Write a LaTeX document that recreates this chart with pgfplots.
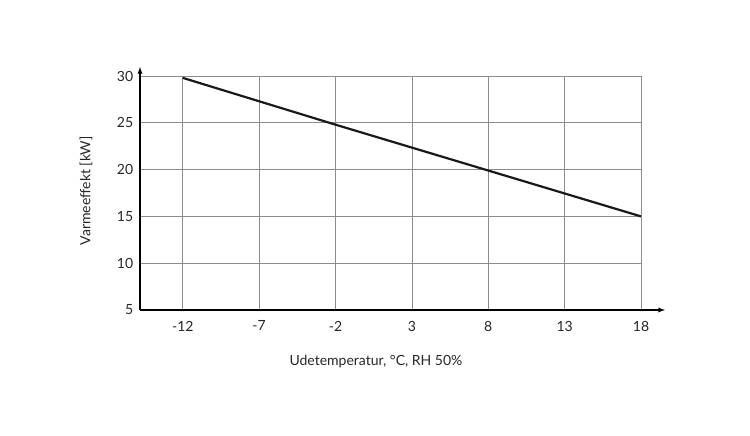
\documentclass[border=0pt]{standalone}
\usepackage{fontspec}
\setmainfont{Lato}
\usepackage{pgfplots}
\pgfplotsset{compat=1.18}
\begin{document}
\fontsize{14bp}{16bp}\selectfont
\begin{tikzpicture}
\useasboundingbox (-140bp,-126bp) rectangle (610bp,310bp);
\begin{axis}[
  at={(0,0)}, anchor=south west,
  scale only axis, width=501bp, height=234bp,
  xmin=-14.8, xmax=18, ymin=5, ymax=30,
  axis lines=left,
  x axis line style={-latex, shorten >=-24bp, line width=1.3pt},
  y axis line style={-latex, shorten >=-9bp, line width=1.3pt},
  xtick={-12,-7,-2,3,8,13,18},
  ytick={5,10,15,20,25,30},
  major tick length=0pt,
  grid=major,
  major grid style={gray!90, line width=0.7pt},
  tick label style={font=\fontsize{14bp}{16bp}\selectfont, text=black!85},
  xticklabel style={yshift=-6bp},
  yticklabel style={xshift=-2bp},
  /pgf/number format/assume math mode=true,
  xlabel={Udetemperatur, °C, RH 50\%},
  ylabel={Varmeeffekt [kW]},
  label style={font=\fontsize{14bp}{16bp}\selectfont, text=black!85},
  xlabel style={at={(rel axis cs:0.471,0)}, anchor=center, yshift=-52bp},
  ylabel style={at={(rel axis cs:0,0.51)}, anchor=center, yshift=54bp},
]
\addplot[black!90, line width=2.2pt] coordinates {(-12,29.8) (-2,24.8) (8,19.9) (18,15)};
\end{axis}
\end{tikzpicture}
\end{document}
